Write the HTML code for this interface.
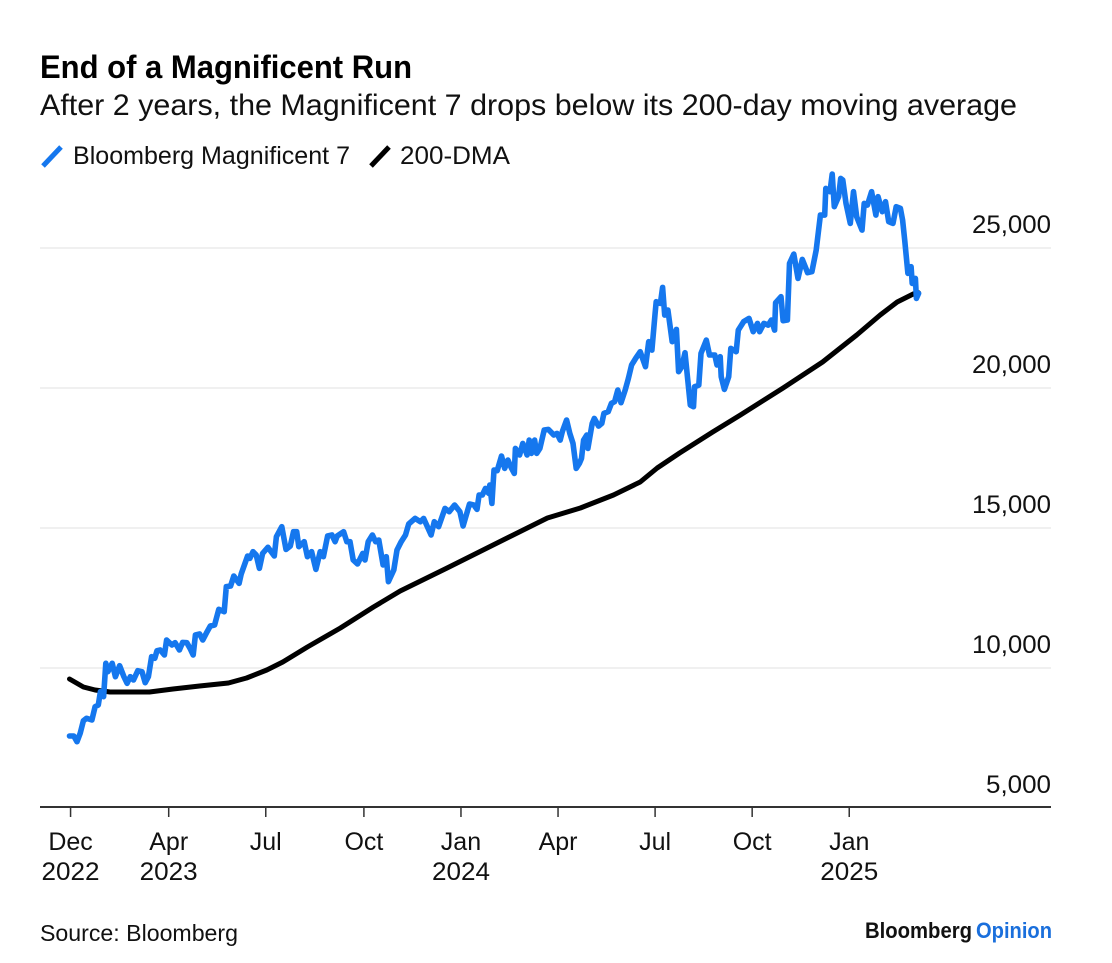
<!DOCTYPE html>
<html lang="en">
<head>
<meta charset="utf-8">
<title>End of a Magnificent Run</title>
<style>
html,body{margin:0;padding:0;background:#fff;}
body{width:1112px;height:963px;overflow:hidden;}
svg{display:block;font-family:"Liberation Sans",sans-serif;}
</style>
</head>
<body>
<svg id="chart" width="1112" height="963" viewBox="0 0 1112 963" xmlns="http://www.w3.org/2000/svg">
  <rect width="1112" height="963" fill="#fff"/>
  <text x="40" y="78" font-size="32" font-weight="700" fill="#000" textLength="372" lengthAdjust="spacingAndGlyphs">End of a Magnificent Run</text>
  <text x="40" y="115" font-size="30" fill="#111" textLength="977" lengthAdjust="spacingAndGlyphs">After 2 years, the Magnificent 7 drops below its 200-day moving average</text>
  <g>
    <line x1="43" y1="166" x2="61" y2="147" stroke="#1577ee" stroke-width="5"/>
    <text x="73" y="164" font-size="25" fill="#111" textLength="277" lengthAdjust="spacingAndGlyphs">Bloomberg Magnificent 7</text>
    <line x1="371" y1="166" x2="389" y2="147" stroke="#000" stroke-width="5"/>
    <text x="400" y="164" font-size="25" fill="#111" textLength="110" lengthAdjust="spacingAndGlyphs">200-DMA</text>
  </g>
  <g id="grid"></g>
  <g id="yLabels"></g>
  <line x1="40" y1="807" x2="1051" y2="807" stroke="#333" stroke-width="2"/>
  <g id="xTicks"></g>
  <path id="maLine" fill="none" stroke="#000" stroke-width="5" stroke-linejoin="round" stroke-linecap="round"/>
  <path id="magLine" fill="none" stroke="#1577ee" stroke-width="5.6" stroke-linejoin="round" stroke-linecap="round"/>
  <text x="40" y="941" font-size="23" fill="#111" textLength="198" lengthAdjust="spacingAndGlyphs">Source: Bloomberg</text>
  <text x="865" y="938" font-size="22" font-weight="700" fill="#111" textLength="107" lengthAdjust="spacingAndGlyphs">Bloomberg</text>
  <text x="976" y="938" font-size="22" font-weight="700" fill="#1a6fdc" textLength="76" lengthAdjust="spacingAndGlyphs">Opinion</text>
</svg>
<script>
const yTickValues = [25000, 20000, 15000, 10000, 5000];
const yTickLabels = ["25,000", "20,000", "15,000", "10,000", "5,000"];
const xTickDays = [1, 93, 184, 276, 367, 458, 549, 640, 731];
const xTickMonths = ["Dec", "Apr", "Jul", "Oct", "Jan", "Apr", "Jul", "Oct", "Jan"];
const xTickYears = ["2022", "2023", "", "", "2024", "", "", "", "2025"];

const magDays = [0,4,7,10,13,16,21,24,27,29,32,34,36,40,43,47,51,54,57,60,64,68,71,74,77,80,82,85,89,91,96,99,103,106,110,113,116,118,122,125,129,132,136,140,145,147,151,154,159,161,167,169,172,175,178,181,186,192,194,199,203,207,210,213,215,220,223,227,231,235,238,242,246,249,251,257,260,263,266,270,275,277,280,284,287,290,294,297,299,304,307,311,315,318,324,329,332,339,342,346,352,356,361,366,369,375,379,382,384,387,390,393,394,396,398,401,405,408,411,414,417,418,422,425,429,431,433,436,438,441,445,449,454,457,460,462,466,469,472,475,478,480,482,485,486,490,492,496,499,501,505,508,511,514,517,521,524,527,531,535,540,543,546,549,550,554,556,558,561,565,569,571,574,577,582,585,586,590,592,597,600,605,607,610,611,614,618,620,625,627,632,637,641,645,647,651,655,658,661,662,667,669,673,675,679,683,687,692,696,700,704,708,709,713,715,717,721,723,725,728,732,735,738,743,745,748,752,756,758,762,765,768,772,775,779,781,783,786,789,790,793,794,796];
const magValues = [7572,7572,7369,7667,8119,8203,8143,8619,8679,9155,8976,10167,9869,10167,9690,10083,9690,9452,9690,9571,9905,9869,9476,9690,10405,10345,10619,10643,10464,11000,10821,10904,10643,10916,10904,10702,10464,11178,11214,11000,11297,11500,11535,12095,12011,12904,12928,13285,13023,13357,13999,13916,14154,14035,13559,14094,14309,13999,14690,15047,14237,14356,14868,14868,14333,14511,13975,14154,13523,14154,13975,14713,14749,14511,14713,14868,14511,14511,13856,13714,14094,13856,14511,14749,14511,14571,13678,13975,13083,13499,14213,14511,14749,15142,15344,15225,15344,14749,15225,15047,15701,15582,15820,15582,15070,15856,15820,15666,16177,16177,16416,16237,16534,15880,17070,17046,17570,17130,17427,17165,16951,17844,17606,18022,17606,18141,17665,18141,17665,17844,18499,18522,18320,18380,18141,18439,18856,18380,18022,17130,17308,17487,18141,18320,17844,18737,18915,18641,18737,19094,19153,19451,19510,19927,19475,19927,20344,20820,21070,21296,20760,21653,21355,22665,23081,23022,23593,22605,22784,21653,22093,20581,20760,21260,19391,19332,20046,20105,21236,21712,21177,21177,20820,21117,20403,19951,20403,21415,21296,22069,22367,22486,22010,22307,22010,22307,22248,22427,22069,23046,23260,22403,22427,24450,24783,23914,24593,24117,24153,24926,26176,26176,27128,27009,27640,26474,26831,27485,27426,26593,25878,27009,26116,25640,26593,26533,27009,26176,26831,26295,26652,25938,25878,26474,26414,25997,25283,24093,24331,23736,23915,23200,23379];

const maDays = [0,13,24,38,75,97,122,149,166,185,200,223,254,285,310,354,416,448,479,510,535,551,572,603,629,669,706,738,760,776,791,796];
const maValues = [9607,9321,9214,9142,9142,9250,9357,9464,9642,9928,10214,10750,11428,12178,12750,13570,14750,15357,15714,16178,16642,17142,17678,18428,19035,20000,20928,21892,22607,23071,23357,23400];

const NS = "http://www.w3.org/2000/svg";
function xScale(day) { return 69.5 + day * (1 / 0.9375); }
function yScale(value) { return 808 - (value - 5000) * 0.028; }
function linePath(days, values) {
  return days.map(function (d, i) {
    return (i ? "L" : "M") + xScale(d).toFixed(1) + " " + yScale(values[i]).toFixed(1);
  }).join("");
}
function addText(parent, x, y, anchor, content) {
  const t = document.createElementNS(NS, "text");
  t.setAttribute("x", x);
  t.setAttribute("y", y);
  t.setAttribute("text-anchor", anchor);
  t.setAttribute("font-size", "25");
  t.setAttribute("fill", "#111");
  t.textContent = content;
  parent.appendChild(t);
  return t;
}

const grid = document.getElementById("grid");
const yLabels = document.getElementById("yLabels");
yTickValues.forEach(function (v, i) {
  const y = yScale(v);
  if (v > 5000) {
    const g = document.createElementNS(NS, "line");
    g.setAttribute("x1", 40);
    g.setAttribute("x2", 1051);
    g.setAttribute("y1", y);
    g.setAttribute("y2", y);
    g.setAttribute("stroke", "#f0f0f0");
    g.setAttribute("stroke-width", "2");
    
    
    grid.appendChild(g);
  }
  const label = addText(yLabels, 1051, y - 15, "end", yTickLabels[i]);
  label.setAttribute("textLength", yTickLabels[i].length === 6 ? 79 : 65);
  label.setAttribute("lengthAdjust", "spacingAndGlyphs");
  
  
});

const xTicks = document.getElementById("xTicks");
xTickDays.forEach(function (d, i) {
  const x = xScale(d);
  const tick = document.createElementNS(NS, "line");
  tick.setAttribute("x1", x);
  tick.setAttribute("x2", x);
  tick.setAttribute("y1", 807);
  tick.setAttribute("y2", 817);
  tick.setAttribute("stroke", "#333");
  tick.setAttribute("stroke-width", "1.5");
  
  
  xTicks.appendChild(tick);
  const month = addText(xTicks, x, 850, "middle", xTickMonths[i]);
  
  
  if (xTickYears[i]) {
    const year = addText(xTicks, x, 880, "middle", xTickYears[i]);
    year.setAttribute("textLength", 58);
    year.setAttribute("lengthAdjust", "spacingAndGlyphs");
    
    
  }
});

document.getElementById("maLine").setAttribute("d", linePath(maDays, maValues));
document.getElementById("magLine").setAttribute("d", linePath(magDays, magValues));
</script>
</body>
</html>
